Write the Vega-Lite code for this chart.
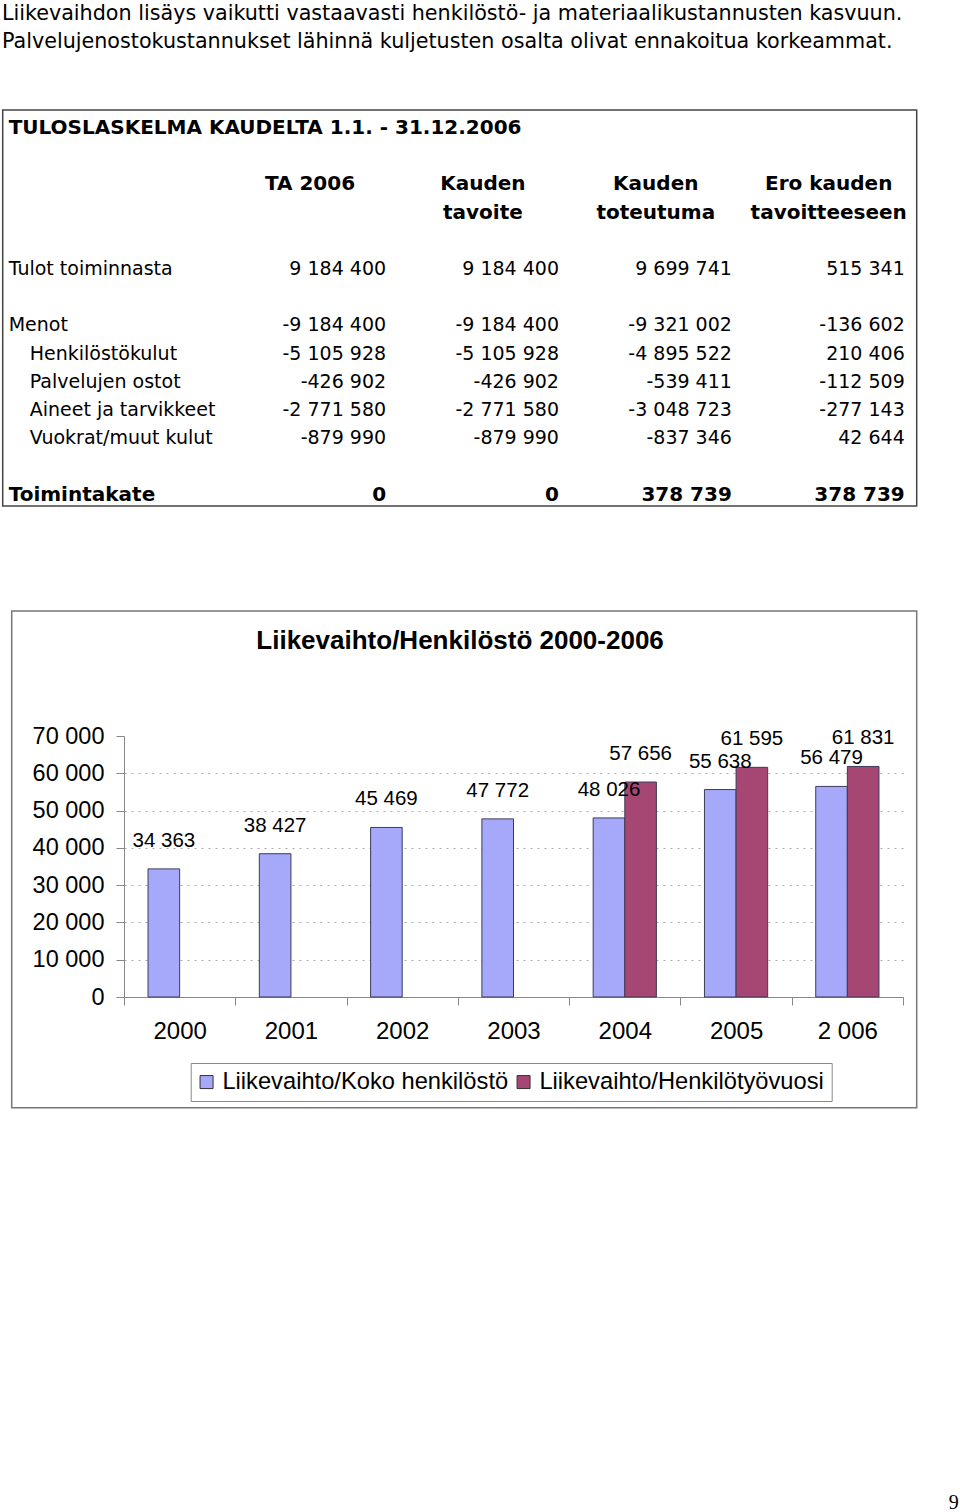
{
  "$schema": "https://vega.github.io/schema/vega-lite/v6.json",
  "padding": {"left": 1, "top": 2, "right": 0, "bottom": 0},
  "background": "white",
  "title": {
    "text": ["Liikevaihdon lisäys vaikutti vastaavasti henkilöstö- ja materiaalikustannusten kasvuun.", "Palvelujenostokustannukset lähinnä kuljetusten osalta olivat ennakoitua korkeammat."],
    "anchor": "start", "frame": "bounds", "font": "DejaVu Sans", "fontSize": 20.7, "fontWeight": "normal",
    "lineHeight": 28, "color": "black", "offset": 57, "baseline": "top"
  },
  "config": {
    "locale": {"number": {"decimal": ",", "thousands": " ", "grouping": [3], "currency": ["", " €"], "minus": "-"}},
    "view": {"stroke": null}
  },
  "spacing": 103,
  "resolve": {"legend": {"color": "independent"}},
  "datasets": {
    "table": [
      {"line": 0, "label": "TULOSLASKELMA KAUDELTA 1.1. - 31.12.2006", "level": "title"},
      {"line": 5, "label": "Tulot toiminnasta", "level": "main", "ta": 9184400, "tavoite": 9184400, "toteutuma": 9699741, "ero": 515341},
      {"line": 7, "label": "Menot", "level": "main", "ta": -9184400, "tavoite": -9184400, "toteutuma": -9321002, "ero": -136602},
      {"line": 8, "label": "Henkilöstökulut", "level": "sub", "ta": -5105928, "tavoite": -5105928, "toteutuma": -4895522, "ero": 210406},
      {"line": 9, "label": "Palvelujen ostot", "level": "sub", "ta": -426902, "tavoite": -426902, "toteutuma": -539411, "ero": -112509},
      {"line": 10, "label": "Aineet ja tarvikkeet", "level": "sub", "ta": -2771580, "tavoite": -2771580, "toteutuma": -3048723, "ero": -277143},
      {"line": 11, "label": "Vuokrat/muut kulut", "level": "sub", "ta": -879990, "tavoite": -879990, "toteutuma": -837346, "ero": 42644},
      {"line": 13, "label": "Toimintakate", "level": "total", "ta": 0, "tavoite": 0, "toteutuma": 378739, "ero": 378739}
    ],
    "headers": [
      {"key": "ta", "line": 2, "text": "TA 2006"},
      {"key": "tavoite", "line": 2, "text": "Kauden"},
      {"key": "tavoite", "line": 3, "text": "tavoite"},
      {"key": "toteutuma", "line": 2, "text": "Kauden"},
      {"key": "toteutuma", "line": 3, "text": "toteutuma"},
      {"key": "ero", "line": 2, "text": "Ero kauden"},
      {"key": "ero", "line": 3, "text": "tavoitteeseen"}
    ],
    "ratio": [
      {"year": "2000", "series": "Liikevaihto/Koko henkilöstö", "value": 34363},
      {"year": "2001", "series": "Liikevaihto/Koko henkilöstö", "value": 38427},
      {"year": "2002", "series": "Liikevaihto/Koko henkilöstö", "value": 45469},
      {"year": "2003", "series": "Liikevaihto/Koko henkilöstö", "value": 47772},
      {"year": "2004", "series": "Liikevaihto/Koko henkilöstö", "value": 48026},
      {"year": "2005", "series": "Liikevaihto/Koko henkilöstö", "value": 55638},
      {"year": "2 006", "series": "Liikevaihto/Koko henkilöstö", "value": 56479},
      {"year": "2004", "series": "Liikevaihto/Henkilötyövuosi", "value": 57656},
      {"year": "2005", "series": "Liikevaihto/Henkilötyövuosi", "value": 61595},
      {"year": "2 006", "series": "Liikevaihto/Henkilötyövuosi", "value": 61831}
    ]
  },
  "vconcat": [
    {
      "width": 792.7,
      "height": 396,
      "resolve": {"scale": {"x": "independent"}},
      "layer": [
        {
          "data": {"values": [{}]},
          "mark": {"type": "rect", "fill": null, "stroke": "#444", "strokeWidth": 1.5, "xOffset": -121.3},
          "encoding": {"x": {"value": 0}, "x2": {"value": "width"}, "y": {"value": 0}, "y2": {"value": "height"}}
        },
        {
          "data": {"name": "table"},
          "transform": [{"filter": "datum.level == 'title' || datum.level == 'total'"}],
          "mark": {"type": "text", "font": "DejaVu Sans", "fontSize": 20, "fontWeight": "bold", "align": "left", "baseline": "middle", "dx": -115.3, "color": "black"},
          "encoding": {
            "x": {"datum": "label", "type": "nominal", "scale": {"type": "point", "domain": ["label"], "padding": 0, "align": 0}, "axis": null},
            "y": {"field": "line", "type": "quantitative", "scale": {"domain": [-0.64, 13.40], "reverse": true, "nice": false, "zero": false}, "axis": null},
            "text": {"field": "label"}
          }
        },
        {
          "data": {"name": "table"},
          "transform": [{"filter": "datum.level == 'main'"}],
          "mark": {"type": "text", "font": "DejaVu Sans", "fontSize": 19, "align": "left", "baseline": "middle", "dx": -115.3, "color": "black"},
          "encoding": {
            "x": {"datum": "label", "type": "nominal", "scale": {"type": "point", "domain": ["label"], "padding": 0, "align": 0}, "axis": null},
            "y": {"field": "line", "type": "quantitative"},
            "text": {"field": "label"}
          }
        },
        {
          "data": {"name": "table"},
          "transform": [{"filter": "datum.level == 'sub'"}],
          "mark": {"type": "text", "font": "DejaVu Sans", "fontSize": 19, "align": "left", "baseline": "middle", "dx": -94.3, "color": "black"},
          "encoding": {
            "x": {"datum": "label", "type": "nominal", "scale": {"type": "point", "domain": ["label"], "padding": 0, "align": 0}, "axis": null},
            "y": {"field": "line", "type": "quantitative"},
            "text": {"field": "label"}
          }
        },
        {
          "data": {"name": "table"},
          "transform": [
            {"filter": "datum.level == 'main' || datum.level == 'sub'"},
            {"fold": ["ta", "tavoite", "toteutuma", "ero"]}
          ],
          "mark": {"type": "text", "font": "DejaVu Sans", "fontSize": 19, "align": "right", "baseline": "middle", "color": "black"},
          "encoding": {
            "x": {"field": "key", "type": "nominal", "bandPosition": 1, "scale": {"type": "band", "domain": ["ta", "tavoite", "toteutuma", "ero"], "paddingInner": 0, "paddingOuter": 0.2924, "align": 0.882}, "axis": null},
            "y": {"field": "line", "type": "quantitative"},
            "text": {"field": "value", "type": "quantitative", "format": ",d"}
          }
        },
        {
          "data": {"name": "table"},
          "transform": [
            {"filter": "datum.level == 'total'"},
            {"fold": ["ta", "tavoite", "toteutuma", "ero"]}
          ],
          "mark": {"type": "text", "font": "DejaVu Sans", "fontSize": 20, "fontWeight": "bold", "align": "right", "baseline": "middle", "color": "black"},
          "encoding": {
            "x": {"field": "key", "type": "nominal", "bandPosition": 1, "scale": {"type": "band", "domain": ["ta", "tavoite", "toteutuma", "ero"], "paddingInner": 0, "paddingOuter": 0.2924, "align": 0.882}, "axis": null},
            "y": {"field": "line", "type": "quantitative"},
            "text": {"field": "value", "type": "quantitative", "format": ",d"}
          }
        },
        {
          "data": {"name": "headers"},
          "mark": {"type": "text", "font": "DejaVu Sans", "fontSize": 20, "fontWeight": "bold", "align": "center", "baseline": "middle", "color": "black"},
          "encoding": {
            "x": {"field": "key", "type": "nominal", "bandPosition": 0.56, "scale": {"type": "band", "domain": ["ta", "tavoite", "toteutuma", "ero"], "paddingInner": 0, "paddingOuter": 0.2924, "align": 0.882}, "axis": null},
            "y": {"field": "line", "type": "quantitative"},
            "text": {"field": "text"}
          }
        }
      ]
    },
    {
      "width": 779,
      "height": 261,
      "title": {
        "text": "Liikevaihto/Henkilöstö 2000-2006",
        "font": "Liberation Sans", "fontSize": 26, "fontWeight": "bold", "color": "black",
        "anchor": "middle", "frame": "bounds", "baseline": "top", "offset": -44
      },
      "layer": [
        {
          "data": {"values": [{}]},
          "mark": {"type": "rect", "fill": null, "stroke": "white", "strokeOpacity": 0, "xOffset": -121.3, "x2Offset": 13.7, "yOffset": -125, "y2Offset": 110.7},
          "encoding": {"x": {"value": 0}, "x2": {"value": "width"}, "y": {"value": 0}, "y2": {"value": "height"}}
        },
        {
          "data": {"values": [{}]},
          "mark": {"type": "rect", "fill": null, "stroke": "#777", "strokeWidth": 1.5, "xOffset": -112.3, "x2Offset": 13.7, "yOffset": -125, "y2Offset": 110.7},
          "encoding": {"x": {"value": 0}, "x2": {"value": "width"}, "y": {"value": 0}, "y2": {"value": "height"}}
        },
        {
          "data": {"name": "ratio"},
          "encoding": {
            "x": {
              "field": "year", "type": "nominal", "sort": ["2000", "2001", "2002", "2003", "2004", "2005", "2 006"],
              "scale": {"paddingInner": 0, "paddingOuter": 0},
              "axis": {
                "title": null, "labelAngle": 0, "tickBand": "extent", "tickSize": 8, "tickColor": "#888", "domainColor": "#888",
                "labelFont": "Liberation Sans", "labelFontSize": 24, "labelColor": "black", "labelPadding": 14
              }
            },
            "xOffset": {
              "field": "series", "type": "nominal",
              "scale": {"domain": ["Liikevaihto/Koko henkilöstö", "Liikevaihto/Henkilötyövuosi"], "paddingInner": 0, "paddingOuter": 0.76}
            },
            "y": {
              "field": "value", "type": "quantitative",
              "scale": {"domain": [0, 70000], "nice": false},
              "axis": {
                "title": null, "values": [0, 10000, 20000, 30000, 40000, 50000, 60000, 70000], "tickCount": 8, "format": ",d",
                "labelFont": "Liberation Sans", "labelFontSize": 23.5, "labelColor": "black", "labelPadding": 12, "labelOverlap": false,
                "tickSize": 8, "tickColor": "#888", "domainColor": "#888",
                "grid": true, "gridColor": "#aaa", "gridDash": [2, 5],
                "gridOpacity": {"condition": {"test": "datum.value >= 70000", "value": 0}, "value": 1}
              }
            }
          },
          "layer": [
            {
              "mark": {"type": "bar", "stroke": "#3c3c5a", "strokeWidth": 1},
              "encoding": {
                "color": {
                  "field": "series", "type": "nominal",
                  "scale": {"domain": ["Liikevaihto/Koko henkilöstö", "Liikevaihto/Henkilötyövuosi"], "range": ["#a6a8fa", "#a64673"]},
                  "legend": {
                    "title": null, "orient": "none", "legendX": 66.7, "legendY": 327, "direction": "horizontal",
                    "symbolType": "square", "symbolSize": 169, "symbolStrokeColor": "#333", "symbolStrokeWidth": 1, "symbolOpacity": 1, "symbolOffset": -3,
                    "labelFont": "Liberation Sans", "labelFontSize": 23.7, "labelColor": "black", "labelLimit": 500,
                    "strokeColor": "#888", "fillColor": "white", "padding": 7, "columnPadding": 6, "labelOffset": 4
                  }
                }
              }
            },
            {
              "mark": {"type": "text", "font": "Liberation Sans", "fontSize": 20.5, "color": "black", "baseline": "middle", "dy": -28},
              "encoding": {
                "text": {"field": "value", "type": "quantitative", "format": ",d"}
              }
            }
          ]
        }
      ]
    },
    {
      "width": 834.7,
      "height": 301,
      "data": {"values": [{"page": "9"}]},
      "mark": {"type": "text", "font": "Liberation Serif", "fontSize": 20, "align": "right", "baseline": "bottom", "color": "black"},
      "encoding": {
        "x": {"value": "width"},
        "y": {"value": "height"},
        "text": {"field": "page"}
      }
    }
  ]
}
